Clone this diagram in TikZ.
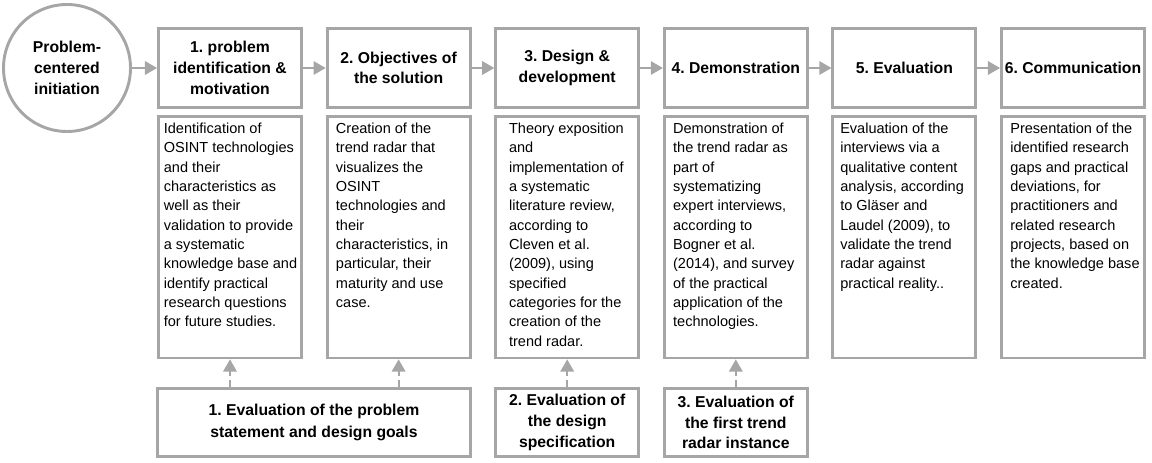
\documentclass[tikz,border=0pt]{standalone}
\usepackage{fontspec}
\setmainfont{Liberation Sans}
\usetikzlibrary{arrows}
\definecolor{boxgray}{RGB}{166,166,166}
\frenchspacing

\tikzset{
	phase/.style={draw=boxgray, line width=2.2pt, minimum width=107.25pt, minimum height=59.25pt, inner xsep=1pt, align=center, font=\bfseries\fontsize{11.8}{15.5}\selectfont},
	desc/.style={draw=boxgray, line width=2.2pt, anchor=north, minimum width=107.25pt, inner xsep=0.5pt, inner ysep=4.5pt, font=\fontsize{10.9}{14.5}\selectfont},
	evalbox/.style={phase, minimum height=51pt},
	flow/.style={draw=boxgray, line width=1.5pt, -triangle 60},
	feedback/.style={flow, dash pattern=on 5pt off 3pt}
}
\newcommand{\desctext}[2][6pt]{\parbox[t][171.75pt][t]{106pt}{\raggedright\leftskip=#1 #2}}

\begin{document}
\begin{tikzpicture}[x=0.75pt,y=-0.75pt]
	\useasboundingbox (0,0) rectangle (1152,463);
	\node [circle, draw=boxgray, line width=2.2pt, minimum size=95.25pt, align=center, font=\bfseries\fontsize{11.8}{15.5}\selectfont] (init) at (67,68) {Problem-\\centered\\initiation};
	\node [phase] (p1) at (230,68) {1. problem\\identification \&\\motivation};
	\node [phase] (p2) at (398.6,68) {2. Objectives of\\the solution};
	\node [phase] (p3) at (567.2,68) {3. Design \&\\development};
	\node [phase] (p4) at (735.8,68) {4. Demonstration};
	\node [phase] (p5) at (904.4,68) {5. Evaluation};
	\node [phase] (p6) at (1073,68) {6. Communication};
	\node [desc] (d1) at (230,115.5) {\desctext[3.4pt]{Identification of\\OSINT technologies\\and their\\characteristics as\\well as their\\validation to provide\\a systematic\\knowledge base and\\identify practical\\research questions\\for future studies.}};
	\node [desc] (d2) at (398.6,115.5) {\desctext{Creation of the\\trend radar that\\visualizes the\\OSINT\\technologies and\\their\\characteristics, in\\particular, their\\maturity and use\\case.}};
	\node [desc] (d3) at (567.2,115.5) {\desctext[9.4pt]{Theory exposition\\and\\implementation of\\a systematic\\literature review,\\according to\\Cleven et al.\\(2009), using\\specified\\categories for the\\creation of the\\trend radar.}};
	\node [desc] (d4) at (735.8,115.5) {\desctext{Demonstration of\\the trend radar as\\part of\\systematizing\\expert interviews,\\according to\\Bogner et al.\\(2014), and survey\\of the practical\\application of the\\technologies.}};
	\node [desc] (d5) at (904.4,115.5) {\desctext[4.9pt]{Evaluation of the\\interviews via a\\qualitative content\\analysis, according\\to Gläser and\\Laudel (2009), to\\validate the trend\\radar against\\practical reality..}};
	\node [desc] (d6) at (1073,115.5) {\desctext{Presentation of the\\identified research\\gaps and practical\\deviations, for\\practitioners and\\related research\\projects, based on\\the knowledge base\\created.}};
	\node [evalbox, minimum width=234.75pt, font=\bfseries\fontsize{11.8}{16.3}\selectfont] (e1) at (314,422.5) {1. Evaluation of the problem\\statement and design goals};
	\node [evalbox] (e2) at (567.2,422.5) {2. Evaluation of\\the design\\specification};
	\node [evalbox] (e3) at (735.8,422.5) {3. Evaluation of\\the first trend\\radar instance};
	\draw [flow] (init) -- (p1);
	\draw [flow] (p1) -- (p2);
	\draw [flow] (p2) -- (p3);
	\draw [flow] (p3) -- (p4);
	\draw [flow] (p4) -- (p5);
	\draw [flow] (p5) -- (p6);
	\draw [feedback] (e1.north -| d1.south) -- (d1.south);
	\draw [feedback] (e1.north -| d2.south) -- (d2.south);
	\draw [feedback] (e2) -- (d3);
	\draw [feedback] (e3) -- (d4);
\end{tikzpicture}
\end{document}
